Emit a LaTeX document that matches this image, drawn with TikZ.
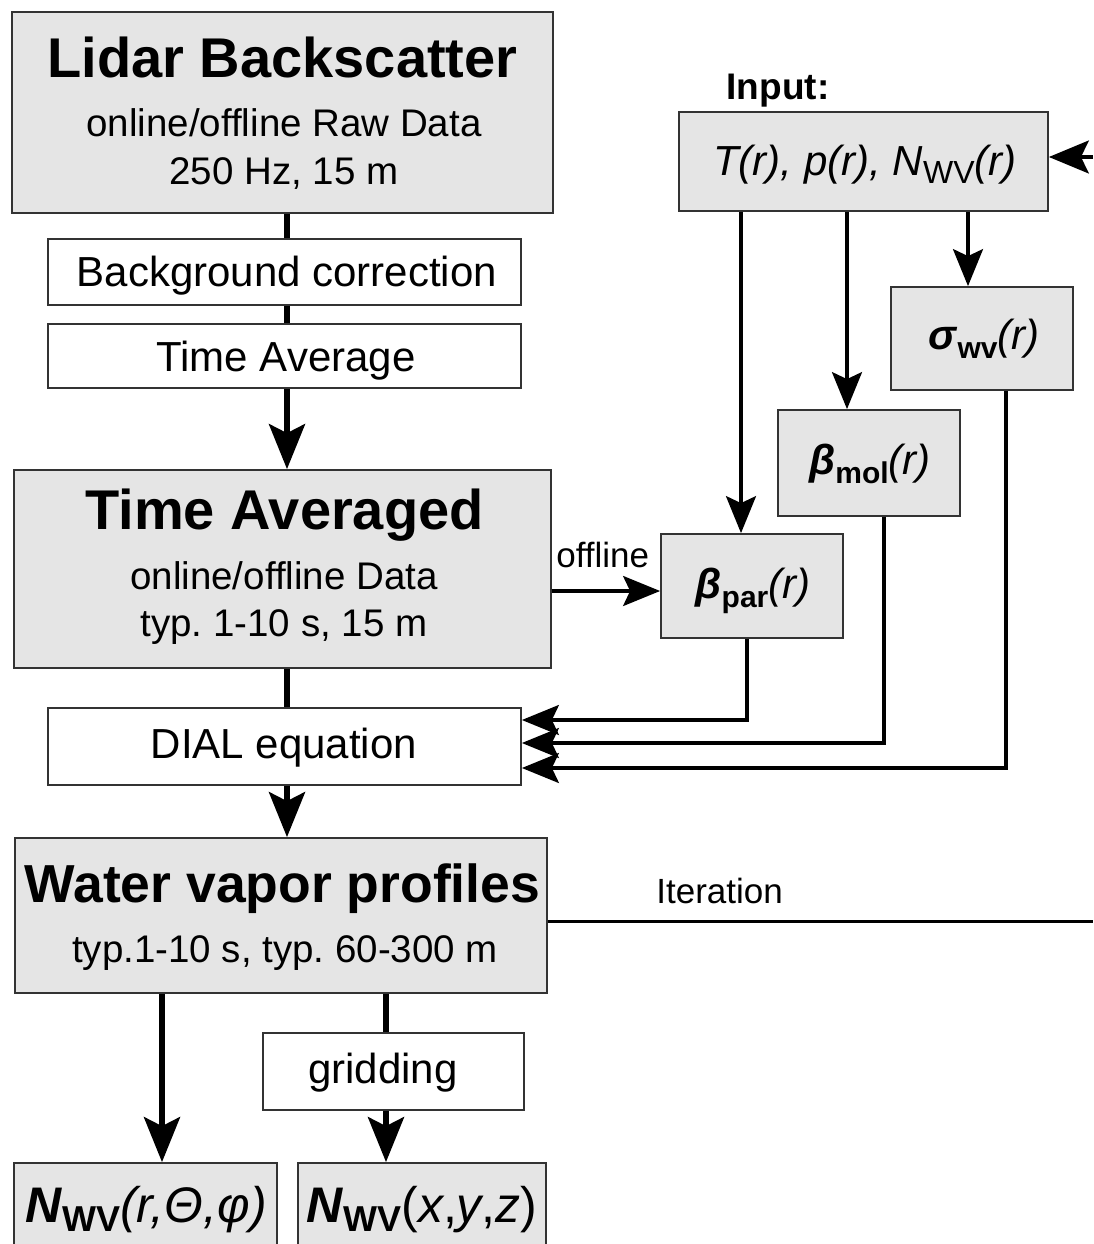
\documentclass[tikz,border=0pt]{standalone}
\usepackage{fontspec}
\setmainfont{Liberation Sans}
\usetikzlibrary{arrows.meta}
\frenchspacing

% lowered, smaller subscript text
\newcommand\lowtext[2][28]{\raisebox{-9pt}{\fontsize{#1}{#1}\selectfont #2}}

\begin{document}
\begin{tikzpicture}[x=1pt,y=-1pt,
  graybox/.style={draw=black!80, line width=1.8pt, fill=gray!20, inner sep=0pt},
  whitebox/.style={draw=black!80, line width=1.8pt, fill=white, inner sep=0pt},
  txt/.style={anchor=base, inner sep=0pt, font=\fontsize{38.5}{40}\selectfont},
  wtxt/.style={anchor=base, inner sep=0pt, font=\fontsize{42}{44}\selectfont},
  title/.style={anchor=base, inner sep=0pt, font=\fontsize{56}{58}\selectfont\bfseries},
  sym/.style={anchor=base, inner sep=0pt, font=\fontsize{42}{44}\selectfont},
  mainline/.style={line width=5.5pt},
  mainarrow/.style={line width=5.5pt, -{Stealth[length=45pt, width=36pt, inset=9pt]}},
  thinarrow/.style={line width=3.2pt, -{Stealth[length=37pt, width=30pt, inset=7pt]}},
  thinline/.style={line width=3.2pt},
]
\clip (0,0) rectangle (1093,1244);
\fill[white] (0,0) rectangle (1093,1244);

% x positions of the vertical connectors
\coordinate (xm) at (287,0);
\coordinate (xl) at (162,0);
\coordinate (xg) at (386,0);
\coordinate (xp) at (741,0);
\coordinate (xmo) at (847,0);
\coordinate (xs) at (968,0);

% ---------------- left column ----------------
\node[graybox, minimum width=541pt, minimum height=201pt] (lidar) at (282.5,112.5) {};
\node[title] (lidarT) at (282.5,78) {Lidar Backscatter};
\node[txt] (lidarA) at (284,136) {online/offline Raw Data};
\node[txt] (lidarB) at (284,184) {250 Hz, 15 m};

\node[whitebox, minimum width=473pt, minimum height=66pt] (bg) at (284.5,272) {};
\node[wtxt] (bgT) at (287,286) {Background correction};

\node[whitebox, minimum width=473pt, minimum height=64pt] (tavg) at (284.5,356) {};
\node[wtxt] (tavgT) at (286,371) {Time Average};

\node[graybox, minimum width=537pt, minimum height=198pt] (tad) at (282.5,569) {};
\node[title] (tadT) at (284.5,529) {Time Averaged};
\node[txt] (tadA) at (284,589) {online/offline Data};
\node[txt] (tadB) at (284,636) {typ. 1-10 s, 15 m};

\node[whitebox, minimum width=473pt, minimum height=77pt] (dial) at (284.5,746.5) {};
\node[wtxt] (dialT) at (284,758) {DIAL equation};

\node[graybox, minimum width=532pt, minimum height=155pt] (wvp) at (281,915.5) {};
\node[title, font=\fontsize{53.5}{58}\selectfont\bfseries] (wvpT) at (282.5,902) {Water vapor profiles};
\node[txt] (wvpA) at (285,962) {typ.1-10 s, typ. 60-300 m};

\node[whitebox, minimum width=261pt, minimum height=77pt] (grid) at (393.5,1071.5) {};
\node[wtxt] (gridT) at (383,1083) {gridding};

\node[graybox, minimum width=263pt, minimum height=120pt] (nsph) at (145.5,1223) {};
\node[anchor=base, inner sep=0pt, font=\fontsize{50}{52}\selectfont] (nsphT) at (146,1222)
  {\textbf{\textit{N}}\lowtext[36]{\bfseries WV}\textit{(r,Θ,φ)}};
\node[graybox, minimum width=248pt, minimum height=120pt] (ncart) at (422,1223) {};
\node[anchor=base, inner sep=0pt, font=\fontsize{50}{52}\selectfont] (ncartT) at (422,1222)
  {\textbf{\textit{N}}\lowtext[36]{\bfseries WV}(\textit{x},\textit{y},\textit{z})};

% ---------------- right column ----------------
\node[anchor=base, inner sep=0pt, font=\fontsize{37}{39}\selectfont\bfseries] (inputL) at (778,100) {Input:};
\node[graybox, minimum width=369pt, minimum height=99pt] (input) at (863.5,161.5) {};
\node[sym, font=\fontsize{42}{44}\selectfont\itshape] (inputT) at (865,175)
  {T(r), p(r), N\lowtext[32]{\upshape WV}(r)};

\node[graybox, minimum width=182pt, minimum height=103pt] (sig) at (982,338.5) {};
\node[sym] (sigT) at (984,349)
  {\textbf{\textit{σ}}\lowtext[30]{\bfseries wv}\textit{(r)}};

\node[graybox, minimum width=182pt, minimum height=106pt] (bmol) at (869,463) {};
\node[sym] (bmolT) at (870,474)
  {\textbf{\textit{β}}\lowtext[30]{\bfseries mol}\textit{(r)}};

\node[graybox, minimum width=182pt, minimum height=104pt] (bpar) at (752,586) {};
\node[sym] (bparT) at (753,598)
  {\textbf{\textit{β}}\lowtext[30]{\bfseries par}\textit{(r)}};

% free ends of the iteration loop
\coordinate (iterOut) at (1093,921);
\coordinate (iterIn) at (1093,157);

% ---------------- connectors ----------------
\draw[mainline] (lidar.south -| xm) -- (bg.north -| xm);
\draw[mainline] (bg.south -| xm) -- (tavg.north -| xm);
\draw[mainarrow] (tavg.south -| xm) -- (tad.north -| xm);
\draw[mainline] (tad.south -| xm) -- (dial.north -| xm);
\draw[mainarrow] (dial.south -| xm) -- (wvp.north -| xm);
\draw[mainarrow] (wvp.south -| xl) -- (nsph.north -| xl);
\draw[mainline] (wvp.south -| xg) -- (grid.north -| xg);
\draw[mainarrow] (grid.south -| xg) -- (ncart.north -| xg);

\draw[thinarrow] (input.south -| xp) -- (bpar.north -| xp);
\draw[thinarrow] (input.south -| xmo) -- (bmol.north -| xmo);
\draw[thinarrow] (input.south -| xs) -- (sig.north -| xs);

\draw[thinarrow] (tad.east |- 0,591) -- (bpar.west |- 0,591)
  node[pos=0.47, above=18pt, font=\fontsize{35}{36}\selectfont] (offL) {offline};

\draw[thinarrow] (bpar.south -| 747,0) |- (dial.east |- 0,720);
\draw[thinarrow] (bmol.south -| 884,0) |- (dial.east |- 0,743);
\draw[thinarrow] (sig.south -| 1006,0) |- (dial.east |- 0,768);

\draw[line width=3pt] (wvp.east |- iterOut) -- (iterOut)
  node[pos=0.315, above=12pt, font=\fontsize{35}{36}\selectfont] (iterL) {Iteration};
\draw[line width=3.2pt, -{Stealth[length=40pt, width=33pt, inset=8pt]}] (iterIn) -- (input.east |- iterIn);
\end{tikzpicture}
\end{document}
